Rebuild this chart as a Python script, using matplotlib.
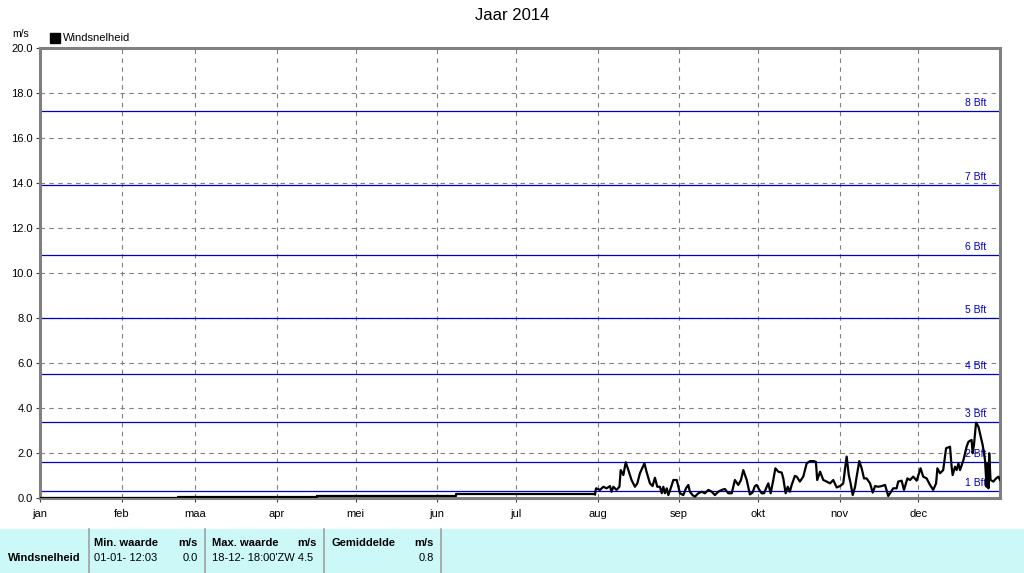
import matplotlib
matplotlib.use("Agg")
import matplotlib.pyplot as plt
from matplotlib.patches import Rectangle
from matplotlib.lines import Line2D

plt.rcParams['font.family'] = ['Liberation Sans', 'DejaVu Sans']

# ---------------- data ----------------
title = "Jaar 2014"
series_name = "Windsnelheid"
unit = "m/s"

month_labels = ["jan", "feb", "maa", "apr", "mei", "jun", "jul", "aug", "sep", "okt", "nov", "dec"]
month_start_days = [0, 31, 59, 90, 120, 151, 181, 212, 243, 273, 304, 334]

bft_levels = [0.3, 1.6, 3.4, 5.5, 8.0, 10.8, 13.9, 17.2]
bft_labels = ["1 Bft", "2 Bft", "3 Bft", "4 Bft", "5 Bft", "6 Bft", "7 Bft", "8 Bft"]

# early part of the year: stepwise near-zero values
step_days = [0, 52.4, 105.5, 158, 211]
step_vals = [0.02, 0.06, 0.10, 0.16, 0.16]

# from August on: measured wind speed
days = [211.0, 211.4, 212.9, 214.2, 215.4, 216.7, 217.3, 218.0, 219.2, 220.3,
        220.8, 221.8, 222.7, 223.7, 224.9, 226.2, 227.1, 228.1, 229.8, 230.6,
        231.9, 232.9, 233.8, 234.7, 235.7, 236.4, 237.0, 237.6, 238.3, 238.9,
        239.8, 240.8, 242.1, 243.3, 244.6, 245.6, 246.5, 247.1, 248.1, 249.0,
        250.3, 251.6, 252.8, 254.1, 255.4, 256.6, 257.9, 259.2, 260.4, 261.7,
        263.0, 264.2, 265.5, 266.5, 267.4, 268.7, 269.9, 270.9, 271.8, 272.5,
        273.5, 274.4, 275.3, 276.3, 276.9, 277.8, 278.8, 279.6, 280.7, 282.0,
        282.6, 283.5, 284.3, 285.1, 285.8, 287.0, 287.7, 288.9, 290.2, 291.5,
        292.8, 294.0, 295.0, 295.5, 296.6, 297.8, 299.1, 300.4, 301.6, 302.9,
        304.2, 305.4, 306.1, 306.7, 307.5, 308.2, 309.0, 309.9, 310.5, 311.5,
        312.4, 313.3, 314.3, 315.6, 316.6, 317.5, 318.7, 320.0, 321.3, 322.5,
        323.2, 324.4, 325.7, 326.3, 327.6, 328.5, 329.8, 330.8, 332.0, 333.3,
        334.8, 335.8, 337.1, 338.4, 339.6, 340.7, 341.2, 342.2, 343.4, 344.5,
        346.0, 346.6, 347.0, 347.9, 348.5, 349.2, 349.8, 351.1, 352.3, 353.0,
        354.2, 354.6, 355.1, 355.9, 356.8, 357.4, 358.4, 359.3, 359.9, 360.2,
        360.6, 360.9, 361.4, 362.5, 363.5, 364.4, 365.0]
speeds = [0.16, 0.43, 0.36, 0.50, 0.43, 0.53, 0.28, 0.50, 0.36, 0.50,
          1.24, 1.02, 1.59, 1.24, 0.80, 0.50, 0.65, 1.10, 1.54, 1.17,
          0.65, 0.53, 0.90, 0.50, 0.50, 0.21, 0.50, 0.21, 0.43, 0.13,
          0.43, 0.80, 0.80, 0.21, 0.13, 0.43, 0.58, 0.28, 0.13, 0.06,
          0.21, 0.28, 0.21, 0.36, 0.28, 0.13, 0.28, 0.36, 0.40, 0.21,
          0.21, 0.80, 0.58, 0.80, 1.24, 0.80, 0.16, 0.24, 0.53, 0.58,
          0.36, 0.21, 0.21, 0.50, 0.65, 0.21, 0.80, 1.32, 1.17, 1.13,
          0.87, 0.21, 0.50, 0.28, 0.58, 0.98, 0.95, 0.73, 0.95, 1.54,
          1.64, 1.64, 1.61, 0.80, 1.17, 0.80, 0.73, 0.65, 0.80, 0.47,
          0.53, 0.65, 1.32, 1.84, 1.02, 0.65, 0.13, 0.50, 0.95, 1.64,
          1.32, 0.87, 0.87, 0.65, 0.24, 0.53, 0.50, 0.53, 0.58, 0.09,
          0.21, 0.43, 0.43, 0.73, 0.77, 0.36, 0.87, 0.80, 0.95, 0.77,
          1.32, 0.95, 0.87, 0.58, 0.36, 0.65, 1.32, 1.10, 1.24, 2.21,
          2.28, 1.39, 1.02, 1.39, 1.24, 1.54, 1.24, 1.69, 2.28, 2.50,
          2.58, 1.99, 2.36, 3.35, 3.17, 2.87, 2.36, 1.69, 0.50, 1.54,
          0.43, 1.99, 0.80, 0.73, 0.87, 0.95, 0.80]

# summary table
table_headers = [("Min. waarde", "m/s"), ("Max. waarde", "m/s"), ("Gemiddelde", "m/s")]
row_name = "Windsnelheid"
min_when, min_val = "01-01- 12:03", "0.0"
max_when, max_val = "18-12- 18:00'ZW 4.5", ""
avg_when, avg_val = "", "0.8"

# ---------------- figure ----------------
W, H = 1024, 573
fig = plt.figure(figsize=(W / 100, H / 100), dpi=100)
fig.patch.set_facecolor("white")


def fx(x):
    return x / W


def fy(y):
    return 1 - y / H


ax_l, ax_r, ax_t, ax_b = 40, 1000, 48, 498
ax = fig.add_axes([fx(ax_l), fy(ax_b), (ax_r - ax_l) / W, (ax_b - ax_t) / H])
ax.set_xlim(0, 365)
ax.set_ylim(0, 20)

grey = "#808080"
blue = "#0000CC"

# grid
for d in month_start_days[1:]:
    ax.axvline(d, color=grey, lw=0.8, ls=(0, (4, 4)), zorder=1)
for v in range(2, 20, 2):
    ax.axhline(v, color=grey, lw=0.8, ls=(0, (4, 4)), zorder=1)

# Beaufort lines
for lvl, lab in zip(bft_levels, bft_labels):
    ax.axhline(lvl, color=blue, lw=0.9, zorder=2)
    ax.annotate(lab, xy=(359.8, lvl), xytext=(0, 2), textcoords="offset points",
                ha="right", va="bottom", color=blue, fontsize=7.5, zorder=3)

# data
ax.plot(step_days, step_vals, color="black", lw=1.6, drawstyle="steps-post", zorder=4)
ax.plot(days, speeds, color="black", lw=1.6, zorder=4)

# axes styling
for s in ax.spines.values():
    s.set_color(grey)
    s.set_linewidth(2.2)
ax.set_yticks(range(0, 21, 2))
ax.set_yticklabels([f"{v:.1f}" for v in range(0, 21, 2)], fontsize=8)
ax.set_xticks(month_start_days)
ax.set_xticklabels(month_labels, fontsize=8)
ax.tick_params(axis="both", direction="out", length=3, width=0.8, color="#404040", pad=2)
ax.tick_params(axis="x", pad=5)

# title, unit, legend
fig.text(fx(512), fy(16), title, ha="center", va="center", fontsize=12)
fig.text(fx(12), fy(34), unit, ha="left", va="center", fontsize=7.5)
fig.patches.append(Rectangle((fx(50), fy(43)), 10 / W, 10 / H, transform=fig.transFigure,
                             facecolor="black", edgecolor="black"))
fig.text(fx(63), fy(38), series_name, ha="left", va="center", fontsize=8)

# summary table
fig.patches.append(Rectangle((0, 0), 1, fy(529), transform=fig.transFigure,
                             facecolor="#CCF8F8", edgecolor="none"))
for xs in [89, 205, 324, 441]:
    fig.lines.append(Line2D([fx(xs), fx(xs)], [0, fy(529)], transform=fig.transFigure,
                            color="#A0A0A0", lw=1.2))

col_left = [94, 212, 331]
col_right = [198, 317, 434]
hy, ry = 543, 558
for (h, u), xl, xr in zip(table_headers, col_left, col_right):
    fig.text(fx(xl), fy(hy), h, ha="left", va="center", fontsize=8, fontweight="bold")
    fig.text(fx(xr), fy(hy), u, ha="right", va="center", fontsize=8, fontweight="bold")

fig.text(fx(8), fy(ry), row_name, ha="left", va="center", fontsize=8, fontweight="bold")
for (when, val), xl, xr in zip([(min_when, min_val), (max_when, max_val), (avg_when, avg_val)],
                              col_left, col_right):
    if when:
        fig.text(fx(xl), fy(ry), when, ha="left", va="center", fontsize=8)
    if val:
        fig.text(fx(xr), fy(ry), val, ha="right", va="center", fontsize=8)

fig.savefig("out.png", dpi=100)
